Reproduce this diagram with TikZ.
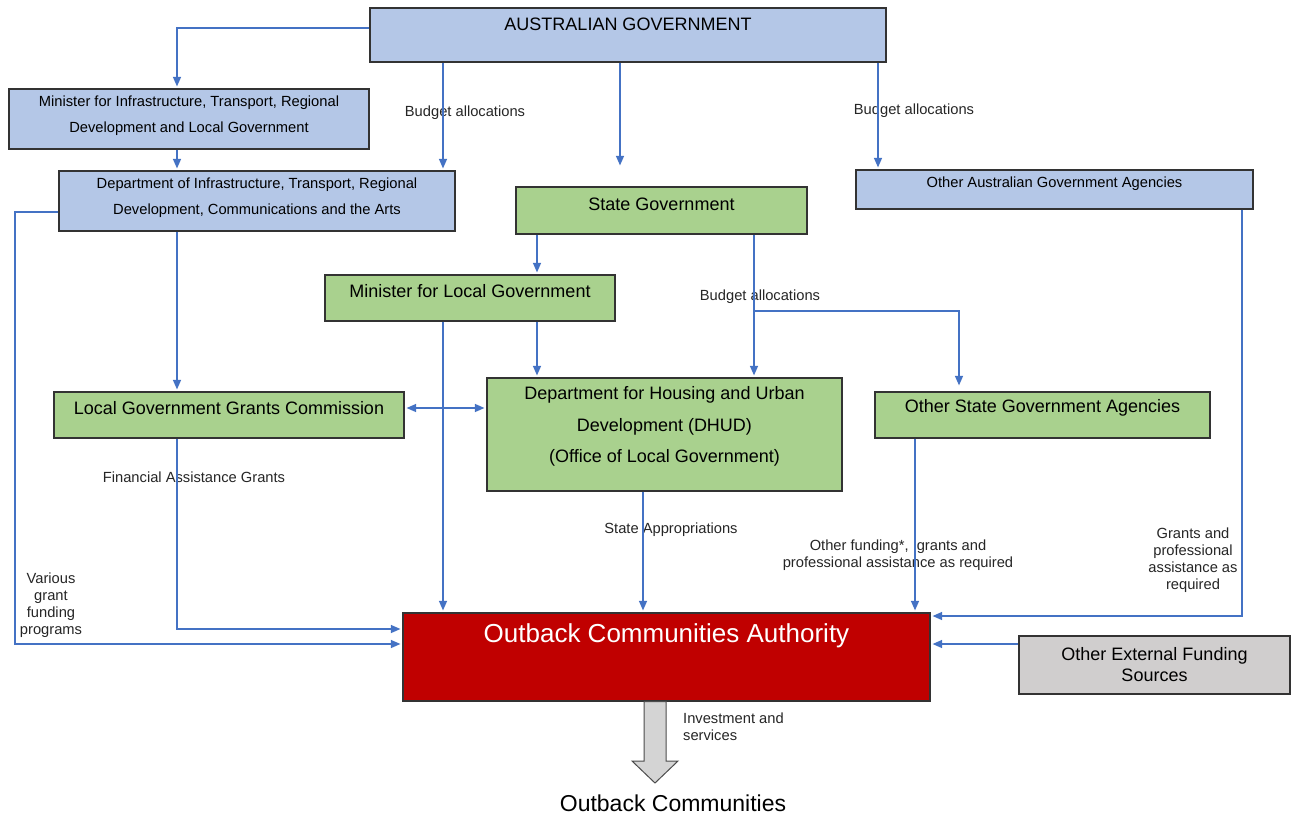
\documentclass[tikz,border=0pt]{standalone}
\usepackage{fontspec}
\setmainfont{Liberation Sans}
\usetikzlibrary{arrows.meta,positioning}

\definecolor{fedblue}{HTML}{B4C7E7}
\definecolor{stgreen}{HTML}{A9D18E}
\definecolor{ocared}{HTML}{C00000}
\definecolor{extgray}{HTML}{D0CECE}
\definecolor{linkblue}{HTML}{4472C4}

\tikzset{
  box/.style={draw=black!80,line width=1.2pt,inner sep=0pt},
  fedbox/.style={box,fill=fedblue},
  stbox/.style={box,fill=stgreen},
  txts/.style={font=\fontsize{14.7}{25.5}\selectfont,align=center,inner sep=0pt},
  txtm/.style={font=\fontsize{18}{21}\selectfont,align=center,inner sep=0pt},
  lbl/.style={font=\fontsize{14.7}{17}\selectfont,text=black!85,align=center,inner sep=0pt},
  link/.style={draw=linkblue,line width=1.3pt,-{Triangle[length=9.5pt,width=8pt]},shorten >=2pt},
}

\begin{document}
\begin{tikzpicture}[x=1pt,y=-1pt]
  \useasboundingbox[fill=white] (0,0) rectangle (1291,816);

  % federal side
  \node[fedbox,minimum width=516pt,minimum height=54pt,
        label={[txtm,yshift=11pt]center:AUSTRALIAN GOVERNMENT}] (ag) at (628,35) {};
  \node[fedbox,minimum width=360pt,minimum height=60pt,
        label={[txts,yshift=3.5pt]center:{Minister for Infrastructure, Transport, Regional\\Development and Local Government}}] (mininfra) at (189,119) {};
  \node[fedbox,minimum width=396pt,minimum height=60pt,
        label={[txts,font=\fontsize{14.7}{26}\selectfont,yshift=3pt]center:{Department of Infrastructure, Transport, Regional\\Development, Communications and the Arts}}] (deptinfra) at (257,201) {};
  \node[fedbox,minimum width=397pt,minimum height=39pt,
        label={[txts,yshift=5.5pt]center:Other Australian Government Agencies}] (otheraga) at (1054.5,189.5) {};

  % state side
  \node[stbox,minimum width=291pt,minimum height=47pt,
        label={[txtm,yshift=6.5pt]center:State Government}] (stategov) at (661.5,210.5) {};
  \node[stbox,minimum width=290pt,minimum height=46pt,
        label={[txtm,yshift=7pt]center:Minister for Local Government}] (minlocal) at (470,298) {};
  \node[stbox,minimum width=350pt,minimum height=46pt,
        label={[txtm,yshift=7pt]center:Local Government Grants Commission}] (lggc) at (229,415) {};
  \node[stbox,minimum width=355pt,minimum height=113pt,
        label={[txtm,font=\fontsize{18}{31.5}\selectfont,yshift=8pt]center:{Department for Housing and Urban\\Development (DHUD)\\(Office of Local Government)}}] (dhud) at (664.5,434.5) {};
  \node[stbox,minimum width=335pt,minimum height=46pt,
        label={[txtm,yshift=7pt]center:Other State Government Agencies}] (osga) at (1042.5,415) {};

  % authority and outside sources
  \node[box,fill=ocared,minimum width=527pt,minimum height=88pt,
        label={[txtm,font=\fontsize{26}{30}\selectfont,text=white,yshift=21pt]center:Outback Communities Authority}] (oca) at (666.5,657) {};
  \node[box,fill=extgray,minimum width=271pt,minimum height=58pt,
        label={[txtm,font=\fontsize{18}{21}\selectfont]center:{Other External Funding\\Sources}}] (oefs) at (1154.5,665) {};
  \node[font=\fontsize{23}{27}\selectfont,inner sep=0pt] (oc) at (673,803) {Outback Communities};

  % edge labels
  \node[lbl] (ba1) at (465,113) {Budget allocations};
  \node[lbl] (ba2) at (914,111) {Budget allocations};
  \node[lbl] (ba3) at (760,297) {Budget allocations};
  \node[lbl] (fag) at (194,477) {Financial Assistance Grants};
  \node[lbl] (sapp) at (671,530) {State Appropriations};
  \node[lbl] (oth) at (898,555) {Other funding*,\ \ grants and\\professional assistance as required};
  \node[lbl] (gpa) at (1193,560) {Grants and\\professional\\assistance as\\required};
  \node[lbl] (vgf) at (51,605) {Various\\grant\\funding\\programs};
  \node[lbl,align=left,anchor=west] (invs) at (683,727) {Investment and\\services};

  % funding links
  \draw[link] ([yshift=7pt]ag.west) -| (mininfra.north -| 177,0);
  \draw[link] (mininfra.south -| 177,0) -- (deptinfra.north -| 177,0);
  \draw[link] (ag.south -| 443,0) -- (deptinfra.north -| 443,0);
  \draw[link,shorten >=21pt] (ag.south -| 620,0) -- (stategov.north -| 620,0);
  \draw[link] (ag.south -| 878,0) -- (otheraga.north -| 878,0);
  \draw[link] (deptinfra.west |- 0,212) -- (15,212) -- (15,644) -- (oca.west |- 0,644);
  \draw[link] (deptinfra.south -| 177,0) -- (lggc.north -| 177,0);
  \draw[link] (stategov.south -| 537,0) -- (minlocal.north -| 537,0);
  \draw[link] (stategov.south -| 754,0) -- (dhud.north -| 754,0);
  \draw[link,shorten >=6pt] (754,311) -| (osga.north -| 959,0);
  \draw[link] (minlocal.south -| 537,0) -- (dhud.north -| 537,0);
  \draw[link] (minlocal.south -| 443,0) -- (oca.north -| 443,0);
  \draw[link,{Triangle[length=9.5pt,width=8pt]}-{Triangle[length=9.5pt,width=8pt]},shorten <=2pt]
    (lggc.east |- 0,408) -- (dhud.west |- 0,408);
  \draw[link] (lggc.south -| 177,0) |- (oca.west |- 0,629);
  \draw[link] (dhud.south -| 643,0) -- (oca.north -| 643,0);
  \draw[link] (osga.south -| 915,0) -- (oca.north -| 915,0);
  \draw[link] (otheraga.south -| 1242,0) |- (oca.east |- 0,616);
  \draw[link] (oefs.west |- 0,644) -- (oca.east |- 0,644);

  % output arrow
  \draw[draw=black!70,line width=1pt,fill=black!17]
    (oca.south -| 644,0) -- (644,761) -- (632,761) -- (655,783)
    -- (678,761) -- (666,761) -- (oca.south -| 666,0) -- cycle;
\end{tikzpicture}
\end{document}
